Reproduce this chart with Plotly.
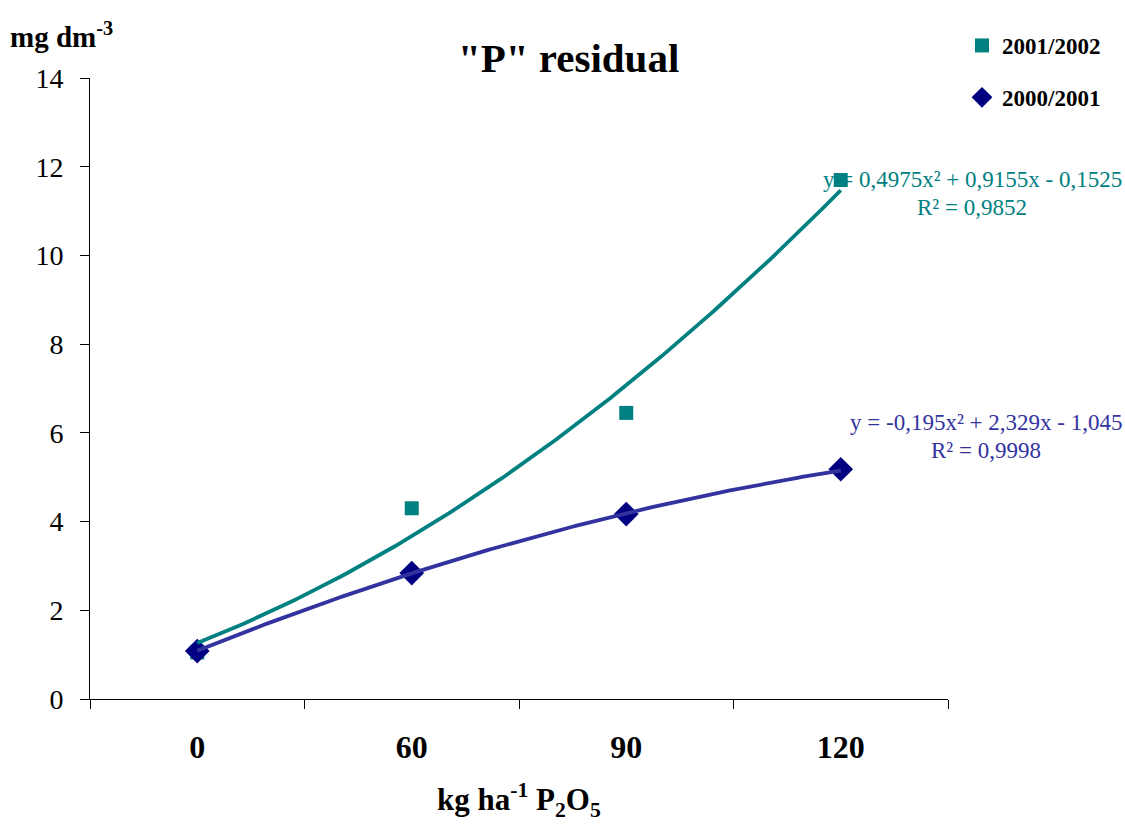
import numpy as np
import plotly.graph_objects as go

categories = ["0", "60", "90", "120"]
series_2002 = [1.05, 4.3, 6.45, 11.7]
series_2001 = [1.08, 2.84, 4.17, 5.18]
coef_2002 = [0.4975, 0.9155, -0.1525]   # a, b, c of trendline (x = category index 1..4)
coef_2001 = [-0.195, 2.329, -1.045]
y_ticks = [0, 2, 4, 6, 8, 10, 12, 14]

TEAL = "#008080"
NAVY = "#000080"
BLUE_LINE = "#3333A0"
FONT = "Liberation Serif"

xi = list(range(1, len(categories) + 1))
xs = np.linspace(1, len(categories), 200)

def poly(c, x):
    return c[0] * x ** 2 + c[1] * x + c[2]

fig = go.Figure()
fig.add_trace(go.Scatter(x=xi, y=series_2002, mode="markers", name="<b>2001/2002</b>",
                         marker=dict(symbol="square", size=14, color=TEAL),
                         legendgroup="a"))
fig.add_trace(go.Scatter(x=xi, y=series_2001, mode="markers", name="<b>2000/2001</b>",
                         marker=dict(symbol="diamond", size=19, color=NAVY),
                         legendgroup="b"))
fig.add_trace(go.Scatter(x=xs, y=poly(coef_2002, xs), mode="lines", showlegend=False,
                         line=dict(color=TEAL, width=3.8), hoverinfo="skip"))
fig.add_trace(go.Scatter(x=xs, y=poly(coef_2001, xs), mode="lines", showlegend=False,
                         line=dict(color=BLUE_LINE, width=3.8), hoverinfo="skip"))

def px_x(p):
    return (p - 90) / 858.0

def px_y(p):
    return (699 - p) / 621.0

EQ = 23
annotations = [
    dict(text='<b>"P" residual</b>', x=px_x(568), y=px_y(58), font=dict(size=41, family=FONT, color="black"),
         xanchor="center", yanchor="middle"),
    dict(text="<b>mg dm<sup>-3</sup></b>", x=px_x(8), y=px_y(35), font=dict(size=29, family=FONT, color="black"),
         xanchor="left", yanchor="middle"),
    dict(text="<b>kg ha<sup>-1</sup> P<sub>2</sub>O<sub>5</sub></b>", x=px_x(519), y=px_y(800),
         font=dict(size=31, family=FONT, color="black"), xanchor="center", yanchor="middle"),
    dict(text="y = 0,4975x² + 0,9155x - 0,1525", x=px_x(972), y=px_y(180),
         font=dict(size=EQ, family=FONT, color=TEAL), xanchor="center", yanchor="middle"),
    dict(text="R² = 0,9852", x=px_x(972), y=px_y(207),
         font=dict(size=EQ, family=FONT, color=TEAL), xanchor="center", yanchor="middle"),
    dict(text="y = -0,195x² + 2,329x - 1,045", x=px_x(986), y=px_y(422),
         font=dict(size=EQ, family=FONT, color=BLUE_LINE), xanchor="center", yanchor="middle"),
    dict(text="R² = 0,9998", x=px_x(986), y=px_y(450),
         font=dict(size=EQ, family=FONT, color=BLUE_LINE), xanchor="center", yanchor="middle"),
]
for a in annotations:
    a["xref"] = "paper"
    a["yref"] = "paper"
    a["showarrow"] = False

fig.update_layout(
    width=1125, height=824,
    margin=dict(l=90, r=177, t=78, b=125),
    paper_bgcolor="white", plot_bgcolor="white",
    font=dict(family=FONT, color="black"),
    showlegend=True,
    legend=dict(x=px_x(962), y=px_y(24), xanchor="left", yanchor="top",
                font=dict(size=23, family=FONT, color="black"),
                tracegroupgap=19, bgcolor="rgba(0,0,0,0)"),
    annotations=annotations,
    xaxis=dict(range=[0.5, 4.5], tickmode="array", tickvals=xi,
               ticktext=["<b>%s</b>" % c for c in categories],
               tickfont=dict(size=32, family=FONT, color="black"),
               ticks="", showgrid=False, zeroline=False,
               showline=True, linecolor="black", linewidth=1,
               ticklabelstandoff=20,
               minor=dict(tickmode="array", tickvals=[0.5, 1.5, 2.5, 3.5, 4.5],
                          ticks="outside", ticklen=9, tickcolor="black", tickwidth=1, showgrid=False)),
    yaxis=dict(range=[0, 14], tickmode="array", tickvals=y_ticks,
               tickfont=dict(size=28, family=FONT, color="black"),
               ticks="outside", ticklen=9, tickcolor="black", tickwidth=1,
               showgrid=False, zeroline=False, showline=True, linecolor="black", linewidth=1,
               ticklabelstandoff=11),
)

fig.write_html("out.html")
